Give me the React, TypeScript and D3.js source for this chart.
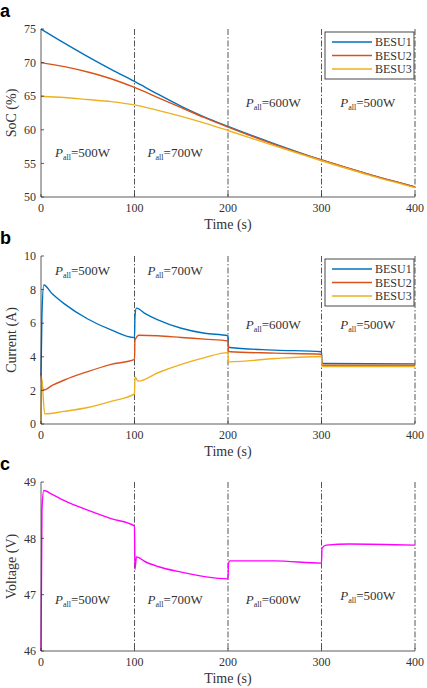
import React from 'react';
import * as d3 from 'd3';

// Time axis shared by all three panels
const timeTicks = [0, 100, 200, 300, 400];
const switchTimes = [100, 200, 300, 400];
const besuNames = ['BESU1', 'BESU2', 'BESU3'];
const besuColors = ['#0072BD', '#D95319', '#EDB120'];

// State of charge (%) per unit
const soc1 = [[0, 75], [25, 72.9], [50, 70.9], [75, 69.0], [100, 67.2], [125, 65.3], [150, 63.5], [175, 61.9], [200, 60.5], [250, 57.9], [300, 55.5], [350, 53.4], [400, 51.5]];
const soc2 = [[0, 70], [25, 69.4], [50, 68.6], [75, 67.6], [100, 66.3], [125, 64.8], [150, 63.3], [175, 61.8], [200, 60.4], [250, 57.8], [300, 55.5], [350, 53.4], [400, 51.5]];
const soc3 = [[0, 65], [25, 64.8], [50, 64.5], [75, 64.2], [100, 63.7], [125, 62.9], [150, 62.0], [175, 61.0], [200, 59.9], [250, 57.6], [300, 55.4], [350, 53.3], [400, 51.4]];
const socTicks = [50, 55, 60, 65, 70, 75];

// Output current (A) per unit
const cur1 = [[0, 2.9], [1, 6.5], [3, 8.27], [12, 7.75], [25, 7.15], [50, 6.25], [75, 5.6], [100, 5.14], [100.5, 6.4], [102, 6.9], [112, 6.55], [125, 6.2], [150, 5.7], [175, 5.4], [200, 5.25], [200.5, 4.6], [202, 4.55], [250, 4.4], [300, 4.3], [300.5, 3.65], [302, 3.6], [400, 3.58]];
const cur2 = [[0, 3.0], [1, 2.3], [3, 2.02], [12, 2.3], [25, 2.62], [50, 3.12], [75, 3.55], [100, 3.85], [100.5, 5.0], [105, 5.28], [125, 5.25], [150, 5.15], [175, 5.05], [200, 4.95], [200.5, 4.35], [202, 4.3], [250, 4.22], [300, 4.15], [300.5, 3.5], [302, 3.5], [400, 3.5]];
const cur3 = [[0, 0], [0.5, 2.8], [4, 0.6], [25, 0.75], [50, 0.98], [75, 1.35], [100, 1.79], [100.5, 2.8], [104, 2.55], [125, 3.05], [150, 3.55], [175, 3.95], [200, 4.25], [200.5, 3.7], [202, 3.7], [250, 3.9], [300, 4.02], [300.5, 3.45], [302, 3.42], [400, 3.42]];
const currentTicks = [0, 2, 4, 6, 8, 10];

// Bus voltage (V)
const voltage = [[0, 46], [1, 48.5], [3, 48.85], [12, 48.78], [25, 48.67], [50, 48.5], [75, 48.35], [100, 48.22], [100.5, 47.45], [102, 47.67], [112, 47.58], [125, 47.5], [150, 47.4], [175, 47.32], [200, 47.28], [200.5, 47.55], [202, 47.6], [250, 47.6], [300, 47.56], [300.5, 47.82], [305, 47.88], [330, 47.9], [400, 47.88]];
const voltageTicks = [46, 47, 48, 49];

// Load power annotations: text, start time, and height in each panel
const powerLabels = ['500W', '700W', '600W', '500W'];
const labelTimes = [15, 114, 219, 320];
const socLabelY = [56, 56, 63.4, 63.4];
const currentLabelY = [8.87, 8.87, 5.65, 5.65];
const voltageLabelY = [46.83, 46.83, 46.83, 46.9];

const X0 = 41;
const X1 = 415;
const serif = '"Liberation Serif", "Times New Roman", serif';
const ink = '#333';

type Series = { values: number[][]; color: string };

type PanelProps = {
  letter: string;
  top: number;
  bottom: number;
  domain: [number, number];
  ticks: number[];
  yTitle: string;
  series: Series[];
  labelY: number[];
  legend: boolean;
};

const x = d3.scaleLinear().domain([0, 400]).range([X0, X1]);

const Panel = ({ letter, top, bottom, domain, ticks, yTitle, series, labelY, legend }: PanelProps) => {
  const y = d3.scaleLinear().domain(domain).range([bottom, top]);
  const line = d3
    .line<number[]>()
    .x((d) => x(d[0]))
    .y((d) => y(d[1]))
    .curve(d3.curveMonotoneX);

  return (
    <g>
      <text x={0} y={top - 12} fontFamily="Arial, Liberation Sans, sans-serif" fontWeight="bold" fontSize={18}>
        {letter}
      </text>

      {/* switching instants */}
      {switchTimes.map((t) => (
        <line key={t} x1={x(t)} x2={x(t)} y1={top} y2={bottom} stroke="#444" strokeWidth={0.9} strokeDasharray="6,2,1.5,2" />
      ))}

      {series.map((s, i) => (
        <path key={i} d={line(s.values) ?? ''} fill="none" stroke={s.color} strokeWidth={1.4} />
      ))}

      {/* axes */}
      <line x1={X0} x2={X0} y1={top} y2={bottom} stroke={ink} strokeWidth={0.8} />
      <line x1={X0} x2={X1} y1={bottom} y2={bottom} stroke={ink} strokeWidth={0.8} />
      {ticks.map((v) => (
        <g key={v}>
          <line x1={X0} x2={X0 + 3} y1={y(v)} y2={y(v)} stroke={ink} strokeWidth={0.8} />
          <text x={X0 - 5} y={y(v)} dy="0.35em" textAnchor="end" fontFamily={serif} fontSize={12} fill={ink}>
            {v}
          </text>
        </g>
      ))}
      {timeTicks.map((t) => (
        <g key={t}>
          <line x1={x(t)} x2={x(t)} y1={bottom} y2={bottom - 3} stroke={ink} strokeWidth={0.8} />
          <text x={x(t)} y={bottom + 15} textAnchor="middle" fontFamily={serif} fontSize={12} fill={ink}>
            {t}
          </text>
        </g>
      ))}
      <text x={(X0 + X1) / 2} y={bottom + 32} textAnchor="middle" fontFamily={serif} fontSize={14} fill={ink}>
        Time (s)
      </text>
      <text
        transform={`translate(16, ${(top + bottom) / 2}) rotate(-90)`}
        textAnchor="middle"
        fontFamily={serif}
        fontSize={14}
        fill={ink}
      >
        {yTitle}
      </text>

      {/* load power annotations */}
      {powerLabels.map((p, i) => (
        <text key={i} x={x(labelTimes[i])} y={y(labelY[i])} fontFamily={serif} fontSize={13} fill={ink}>
          <tspan fontStyle="italic">P</tspan>
          <tspan fontSize={8} dy={3}>all</tspan>
          <tspan dy={-3}>={p}</tspan>
        </text>
      ))}

      {legend && (
        <g transform={`translate(325, ${top + 3})`}>
          <rect x={0} y={0} width={89} height={47} fill="white" stroke={ink} strokeWidth={0.9} />
          {besuNames.map((n, i) => (
            <g key={n} transform={`translate(0, ${10 + i * 13.5})`}>
              <line x1={7} x2={47} y1={0} y2={0} stroke={besuColors[i]} strokeWidth={1.4} />
              <text x={50} y={0} dy="0.35em" fontFamily={serif} fontSize={12} fill={ink}>
                {n}
              </text>
            </g>
          ))}
        </g>
      )}
    </g>
  );
};

export default function App() {
  const socSeries = [soc1, soc2, soc3].map((values, i) => ({ values, color: besuColors[i] }));
  const currentSeries = [cur1, cur2, cur3].map((values, i) => ({ values, color: besuColors[i] }));

  return (
    <div style={{ position: 'absolute', left: 0, top: 0 }}>
      <svg width={427} height={688} style={{ display: 'block', background: 'white' }}>
        <Panel
          letter="a"
          top={29}
          bottom={197}
          domain={[50, 75]}
          ticks={socTicks}
          yTitle="SoC (%)"
          series={socSeries}
          labelY={socLabelY}
          legend
        />
        <Panel
          letter="b"
          top={256}
          bottom={424}
          domain={[0, 10]}
          ticks={currentTicks}
          yTitle="Current (A)"
          series={currentSeries}
          labelY={currentLabelY}
          legend
        />
        <Panel
          letter="c"
          top={482}
          bottom={651}
          domain={[46, 49]}
          ticks={voltageTicks}
          yTitle="Voltage (V)"
          series={[{ values: voltage, color: '#FF00FF' }]}
          labelY={voltageLabelY}
          legend={false}
        />
      </svg>
    </div>
  );
}
